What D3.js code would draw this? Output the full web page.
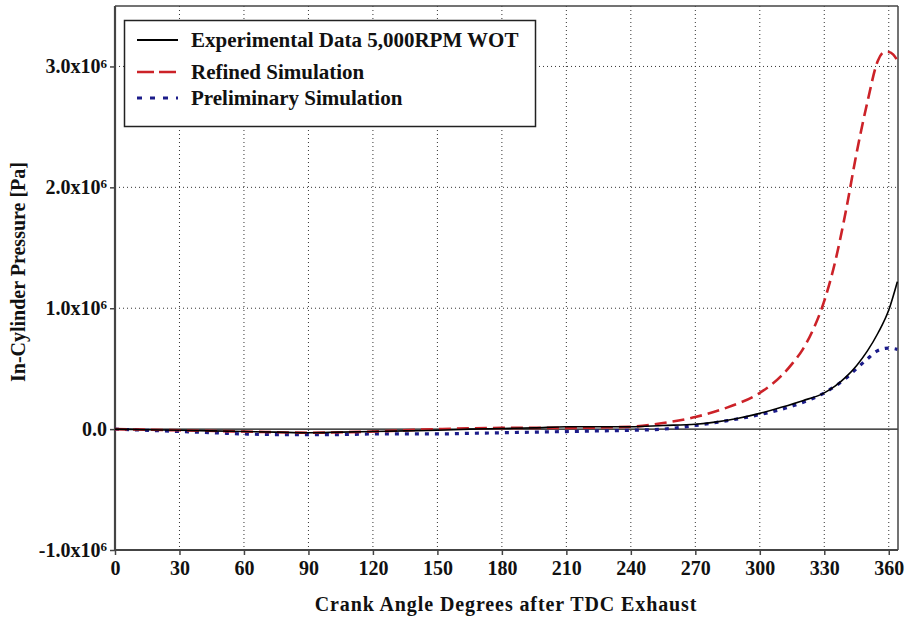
<!DOCTYPE html>
<html><head><meta charset="utf-8">
<script src="https://cdn.jsdelivr.net/npm/d3@7"></script>
<style>body{margin:0;background:#fff}svg{display:block}</style>
</head><body><svg id="c" width="908" height="620"></svg>
<script>
const xTicks = [0,30,60,90,120,150,180,210,240,270,300,330,360];
const yTicks = [-1e6, 0, 1e6, 2e6, 3e6];
const yTickMantissa = ["-1.0", "0.0", "1.0", "2.0", "3.0"];
const seriesNames = ["Experimental Data 5,000RPM WOT", "Refined Simulation", "Preliminary Simulation"];

const expAngle = [0,15,30,45,60,75,90,105,120,135,150,165,180,195,210,225,240,255,270,280,290,300,310,320,330,335,340,345,350,355,360,364];
const expP     = [0,-0.005e6,-0.01e6,-0.015e6,-0.02e6,-0.025e6,-0.03e6,-0.025e6,-0.02e6,-0.015e6,-0.01e6,0,0.005e6,0.01e6,0.02e6,0.02e6,0.02e6,0.03e6,0.04e6,0.06e6,0.09e6,0.13e6,0.18e6,0.235e6,0.30e6,0.355e6,0.43e6,0.525e6,0.645e6,0.795e6,0.985e6,1.22e6];

const refAngle = [0,30,60,90,120,150,180,210,240,255,270,285,300,310,315,320,325,330,335,340,345,350,355,358,360,362,364];
const refP     = [0,-0.01e6,-0.02e6,-0.03e6,-0.02e6,0,0.01e6,0.01e6,0.02e6,0.05e6,0.1e6,0.18e6,0.3e6,0.44e6,0.54e6,0.66e6,0.83e6,1.06e6,1.38e6,1.8e6,2.28e6,2.7e6,3.05e6,3.12e6,3.12e6,3.1e6,3.05e6];

const preAngle = [0,15,30,45,60,75,90,105,120,135,150,165,180,195,210,225,240,255,270,285,300,315,330,340,345,350,355,360,364];
const preP     = [0,-0.01e6,-0.02e6,-0.03e6,-0.04e6,-0.045e6,-0.045e6,-0.045e6,-0.04e6,-0.04e6,-0.04e6,-0.035e6,-0.03e6,-0.025e6,-0.02e6,-0.015e6,-0.01e6,0,0.03e6,0.07e6,0.12e6,0.19e6,0.3e6,0.42e6,0.5e6,0.58e6,0.65e6,0.67e6,0.66e6];

const FONT = '"Liberation Serif","Times New Roman",serif';
const svg = d3.select("#c");
const L = 115, R = 898, T = 6, B = 550;
const x = d3.scaleLinear().domain([0, 364.3]).range([L, R]);
const y = d3.scaleLinear().domain([-1e6, 3.5e6]).range([B, T]);

// grid
const g = svg.append("g");
g.selectAll(".vg").data(xTicks.filter(d => d > 0)).join("line")
  .attr("x1", d => x(d)).attr("x2", d => x(d)).attr("y1", T).attr("y2", B)
  .attr("stroke", "#333").attr("stroke-width", 1).attr("stroke-dasharray", "1,3");
g.selectAll(".hg").data(yTicks.filter(d => d > 0)).join("line")
  .attr("x1", L).attr("x2", R).attr("y1", d => y(d)).attr("y2", d => y(d))
  .attr("stroke", "#333").attr("stroke-width", 1).attr("stroke-dasharray", "1,3");
// zero line
svg.append("line").attr("x1", L).attr("x2", R).attr("y1", y(0)).attr("y2", y(0))
  .attr("stroke", "#111").attr("stroke-width", 1.2);

// frame top/right
svg.append("line").attr("x1", L).attr("x2", R).attr("y1", T).attr("y2", T).attr("stroke", "#444").attr("stroke-width", 1.5);
svg.append("line").attr("x1", R).attr("x2", R).attr("y1", T).attr("y2", B).attr("stroke", "#444").attr("stroke-width", 1.5);

// axes
const xAxis = d3.axisBottom(x).tickValues(xTicks).tickSize(5).tickFormat(d3.format("d"));
const gx = svg.append("g").attr("transform", `translate(0,${B})`).call(xAxis)
  .attr("font-family", FONT).attr("font-size", 20).attr("font-weight", "bold");
gx.select(".domain").attr("stroke", "#444").attr("stroke-width", 2.2).attr("d", `M${L},0H${R}`);
gx.selectAll(".tick line").attr("stroke", "#444").attr("stroke-width", 1.5);
gx.selectAll(".tick text").attr("dy", null).attr("y", 25).attr("fill", "#111");

const yAxis = d3.axisLeft(y).tickValues(yTicks).tickSize(5).tickFormat(() => "");
const gy = svg.append("g").attr("transform", `translate(${L},0)`).call(yAxis)
  .attr("font-family", FONT).attr("font-size", 20).attr("font-weight", "bold");
gy.select(".domain").attr("stroke", "#444").attr("stroke-width", 2.2).attr("d", `M0,${B}V${T}`);
gy.selectAll(".tick line").attr("stroke", "#444").attr("stroke-width", 1.5);
gy.selectAll(".tick text").each(function(d) {
  const t = d3.select(this).attr("x", -8).attr("dy", "0.32em").attr("fill", "#111");
  const idx = yTicks.indexOf(d);
  if (d === 0) { t.text(yTickMantissa[idx]); }
  else {
    t.text(null);
    t.append("tspan").text(yTickMantissa[idx] + "x10");
    t.append("tspan").attr("dy", "-0.45em").attr("font-size", 13).text("6");
  }
});

// lines
const line = d3.line().x(d => x(d[0])).y(d => y(d[1])).curve(d3.curveMonotoneX);
const zip = (a, b) => a.map((v, i) => [v, b[i]]);
svg.append("path").datum(zip(preAngle, preP)).attr("d", line).attr("fill", "none")
  .attr("stroke", "#1c1c8a").attr("stroke-width", 3.2).attr("stroke-dasharray", "4,6");
svg.append("path").datum(zip(refAngle, refP)).attr("d", line).attr("fill", "none")
  .attr("stroke", "#cc2228").attr("stroke-width", 2.6).attr("stroke-dasharray", "12,6");
svg.append("path").datum(zip(expAngle, expP)).attr("d", line).attr("fill", "none")
  .attr("stroke", "#000").attr("stroke-width", 1.6);

// legend
const lg = svg.append("g").attr("font-family", FONT).attr("font-weight", "bold").attr("font-size", 21);
lg.append("rect").attr("x", 124.5).attr("y", 20.5).attr("width", 411).attr("height", 106)
  .attr("fill", "#fff").attr("stroke", "#222").attr("stroke-width", 1.5);
const lgY = [40, 72, 98];
const lgStyle = [
  {c: "#000", w: 2, d: null},
  {c: "#cc2228", w: 2.6, d: "17,5"},
  {c: "#1c1c8a", w: 3, d: "5,8"}
];
seriesNames.forEach((n, i) => {
  lg.append("line").attr("x1", 137).attr("x2", 178).attr("y1", lgY[i]).attr("y2", lgY[i])
    .attr("stroke", lgStyle[i].c).attr("stroke-width", lgStyle[i].w).attr("stroke-dasharray", lgStyle[i].d);
  lg.append("text").attr("x", 191).attr("y", lgY[i]).attr("dy", "0.33em").attr("fill", "#111").text(n);
});

// titles
svg.append("text").attr("x", 506).attr("y", 611).attr("text-anchor", "middle")
  .attr("font-family", FONT).attr("font-weight", "bold").attr("font-size", 20)
  .attr("letter-spacing", "0.9px").attr("fill", "#111").text("Crank Angle Degrees after TDC Exhaust");
svg.append("text").attr("transform", "translate(25,272) rotate(-90)").attr("text-anchor", "middle")
  .attr("font-family", FONT).attr("font-weight", "bold").attr("font-size", 20)
  .attr("fill", "#111").text("In-Cylinder Pressure [Pa]");
</script></body></html>
